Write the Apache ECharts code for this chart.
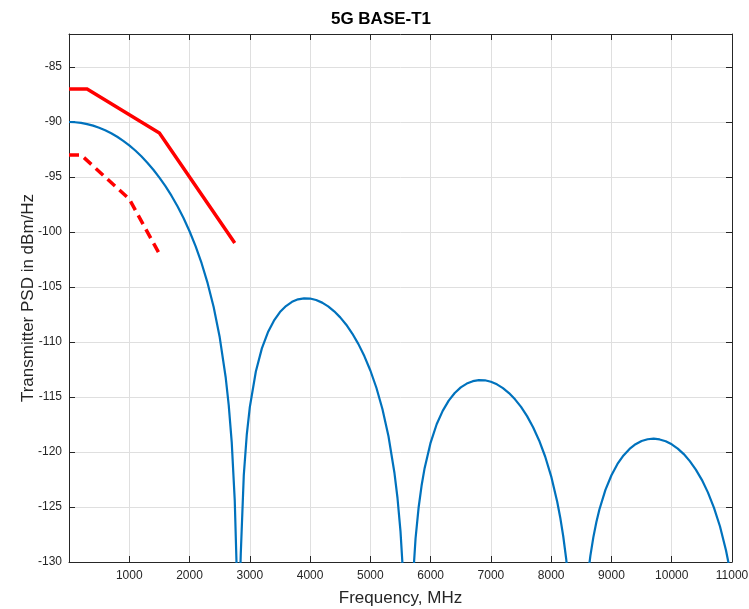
<!DOCTYPE html>
<html><head><meta charset="utf-8">
<script src="https://cdn.jsdelivr.net/npm/echarts@6/dist/echarts.min.js"></script>
<style>html,body{margin:0;padding:0;background:#fff}#c{width:749px;height:609px}</style>
</head><body><div id="c"></div>
<script>
const chartTitle = '5G BASE-T1';
const xName = 'Frequency, MHz';
const yName = 'Transmitter PSD in dBm/Hz';

// Transmitter PSD (blue curve)
const psdFreq = [0,100,200,300,400,500,600,700,800,900,1000,1100,1200,1300,1400,1500,1600,1700,1800,1900,2000,
  2100,2200,2300,2400,2500,2600,2650,2700,2750,2780,2800,2825,2850,2900,2950,3000,3100,3200,3300,3400,3500,3600,
  3700,3800,3900,4000,4100,4200,4300,4400,4500,4600,4700,4800,4900,5000,5100,5200,5300,5400,5450,5500,5550,5600,
  5650,5700,5750,5800,5850,5900,6000,6100,6200,6300,6400,6500,6600,6700,6800,6900,7000,7100,7200,7300,7400,7500,
  7600,7700,7800,7900,8000,8100,8150,8200,8250,8300,8400,8475,8550,8600,8650,8700,8750,8800,8900,9000,9100,9200,
  9300,9400,9500,9600,9700,9800,9900,10000,10100,10200,10300,10400,10500,10600,10700,10800,10900,10950,11000];
const psdValue = [-90,-90.02,-90.08,-90.19,-90.33,-90.52,-90.75,-91.02,-91.34,-91.71,-92.13,-92.59,-93.12,-93.70,-94.34,-95.05,-95.83,-96.70,-97.66,-98.73,-99.93,
  -101.29,-102.84,-104.65,-106.82,-109.55,-113.23,-115.74,-119.12,-124.41,-130.21,-138.59,-138.69,-129.25,-122.10,-118.39,-115.92,-112.68,-110.58,-109.12,-108.06,-107.28,-106.73,
  -106.35,-106.12,-106.03,-106.05,-106.18,-106.42,-106.76,-107.21,-107.76,-108.43,-109.23,-110.17,-111.28,-112.59,-114.16,-116.09,-118.55,-121.91,-124.18,-127.21,-131.76,-141.42,
  -141.54,-132.14,-127.84,-125.07,-123.05,-121.47,-119.14,-117.48,-116.26,-115.33,-114.64,-114.13,-113.78,-113.56,-113.47,-113.48,-113.61,-113.85,-114.19,-114.64,-115.21,-115.90,
  -116.74,-117.75,-118.95,-120.41,-122.21,-124.52,-125.95,-127.66,-129.77,-132.53,-143.97,-144.10,-134.72,-131.64,-129.44,-127.74,-126.36,-125.23,-123.44,-122.11,-121.09,-120.31,
  -119.72,-119.29,-119.00,-118.84,-118.79,-118.86,-119.02,-119.30,-119.69,-120.19,-120.83,-121.60,-122.53,-123.67,-125.05,-126.75,-128.94,-130.30,-131.90];

// Upper limit (red solid)
const maskFreq = [0, 300, 1500, 2750];
const maskValue = [-87, -87, -91, -101];
// Lower limit (red dashed)
const mask2Freq = [0, 200, 1000, 1500];
const mask2Value = [-93, -93, -97, -102];

const xMin = 0, xMax = 11000, xStep = 1000;
const yMin = -130, yMax = -82, yStep = 5;

const pairs = (xs, ys) => xs.map((x, i) => [x, ys[i]]);
const FONT = "'Liberation Sans', Arial, Helvetica, sans-serif";
const TXT = '#262626';
const GRIDC = '#dfdfdf';

const chart = echarts.init(document.getElementById('c'), null, {renderer: 'canvas'});

const baseX = {
  type: 'value', min: xMin, max: xMax, interval: xStep,
  axisLine: {show: true, onZero: false, lineStyle: {color: TXT, width: 1}},
  axisTick: {show: true, inside: true, length: 6, lineStyle: {color: TXT}},
};
const baseY = {
  type: 'value', min: yMin, max: yMax, interval: yStep,
  axisLine: {show: true, onZero: false, lineStyle: {color: TXT, width: 1}},
  axisTick: {show: true, inside: true, length: 6, lineStyle: {color: TXT}},
};

chart.setOption({
  animation: false,
  backgroundColor: '#fff',
  title: {
    text: chartTitle, left: 376, top: 6, textAlign: 'center',
    textStyle: {fontFamily: FONT, fontWeight: 'bold', fontSize: 17, color: '#000'}
  },
  grid: {left: 69, right: 17, top: 34, bottom: 47, containLabel: false, outerBoundsMode: 'none'},
  xAxis: [
    Object.assign({}, baseX, {
      position: 'bottom',
      name: xName, nameLocation: 'middle', nameGap: 28, nameMoveOverlap: false,
      nameTextStyle: {fontFamily: FONT, fontSize: 17, color: TXT},
      axisLabel: {show: true, showMinLabel: false, margin: 8, fontFamily: FONT, fontSize: 12, color: TXT,
        formatter: v => String(v)},
      splitLine: {show: true, lineStyle: {color: GRIDC, width: 1}}
    }),
    Object.assign({}, baseX, {
      position: 'top', axisLabel: {show: false}, splitLine: {show: false}
    })
  ],
  yAxis: [
    Object.assign({}, baseY, {
      position: 'left',
      name: yName, nameLocation: 'middle', nameGap: 32, nameRotate: 90, nameMoveOverlap: false,
      nameTextStyle: {fontFamily: FONT, fontSize: 17, color: TXT},
      axisLabel: {show: true, showMaxLabel: false, margin: 7, fontFamily: FONT, fontSize: 12, color: TXT,
        formatter: v => String(v)},
      splitLine: {show: true, lineStyle: {color: GRIDC, width: 1}}
    }),
    Object.assign({}, baseY, {
      position: 'right', axisLabel: {show: false}, splitLine: {show: false}
    })
  ],
  series: [
    {
      type: 'line', name: 'PSD', xAxisIndex: 0, yAxisIndex: 0,
      data: pairs(psdFreq, psdValue), showSymbol: false, smooth: false, clip: true,
      lineStyle: {color: '#0072BD', width: 2.2}, z: 3
    },
    {
      type: 'line', name: 'Upper mask', xAxisIndex: 0, yAxisIndex: 0,
      data: pairs(maskFreq, maskValue), showSymbol: false, clip: true,
      lineStyle: {color: '#FF0000', width: 3.5, cap: 'butt', join: 'miter'}, z: 4
    },
    {
      type: 'line', name: 'Lower mask', xAxisIndex: 0, yAxisIndex: 0,
      data: pairs(mask2Freq, mask2Value), showSymbol: false, clip: true,
      lineStyle: {color: '#FF0000', width: 3.5, type: [10, 6], cap: 'butt'}, z: 4
    }
  ]
});
</script>
</body></html>
